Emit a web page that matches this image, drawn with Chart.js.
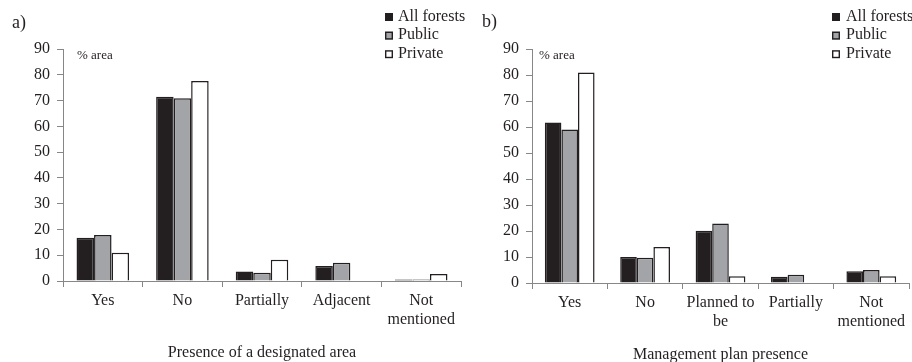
<!DOCTYPE html>
<html>
<head>
<meta charset="utf-8">
<script src="https://cdn.jsdelivr.net/npm/chart.js@4.4.1/dist/chart.umd.min.js"></script>
<style>
  html, body { margin: 0; padding: 0; background: #fff; }
  #wrap { position: relative; width: 912px; height: 362px; overflow: hidden; }
  #wrap div { position: absolute; top: 0; height: 362px; }
</style>
</head>
<body>
<div id="wrap">
  <div style="left:0; width:470px;"><canvas id="chartA"></canvas></div>
  <div style="left:470px; width:442px;"><canvas id="chartB"></canvas></div>
</div>
<script>
// series names
const seriesNames = ['All forests', 'Public', 'Private'];

// a) presence of a designated area
const categoriesA = ['Yes', 'No', 'Partially', 'Adjacent', ['Not', 'mentioned']];
const allForestsA = [16.8, 71.5, 3.7, 5.8, 0.6];
const publicA = [17.8, 70.9, 3.2, 7.1, 0.6];
const privateA = [11.0, 77.6, 8.2, 0, 2.7];

// b) management plan presence
const categoriesB = ['Yes', 'No', ['Planned to', 'be'], 'Partially', ['Not', 'mentioned']];
const allForestsB = [61.7, 10.0, 20.1, 2.4, 4.5];
const publicB = [59.0, 9.7, 22.9, 3.2, 5.0];
const privateB = [81.0, 13.8, 2.6, 0, 2.6];

const yTicks = { min: 0, max: 90, step: 10 };

const ink = '#231f20';
const axisGrey = '#878787';
const serif = '"Liberation Serif", "Times New Roman", serif';
const fills = [ink, '#a2a4a7', '#ffffff'];

// panel letter, "% area" note and the stacked legend
const extras = {
    id: 'extras',
    afterDraw(chart, args, opts) {
        const ctx = chart.ctx;
        ctx.save();
        ctx.fillStyle = ink;
        ctx.textBaseline = 'middle';
        ctx.textAlign = 'left';
        ctx.font = '18px ' + serif;
        ctx.fillText(opts.panel, opts.panelX, opts.panelY);
        ctx.font = '13px ' + serif;
        ctx.fillText('% area', opts.unitX, opts.unitY);

        ctx.font = '16px ' + serif;
        chart.data.datasets.forEach((ds, i) => {
            const y = opts.legendY + i * 18.6;
            ctx.fillStyle = ds.backgroundColor;
            ctx.fillRect(opts.legendX, y - 3.5, 8, 8);
            ctx.strokeStyle = ink;
            ctx.lineWidth = 1.4;
            ctx.strokeRect(opts.legendX + 0.7, y - 2.8, 6.6, 6.6);
            ctx.fillStyle = ink;
            ctx.fillText(ds.label, opts.legendX + opts.legendGap, y);
        });
        ctx.restore();
    }
};

function makeChart(canvasId, labels, series, cfg) {
    const ctx = document.getElementById(canvasId).getContext('2d');

    return new Chart(ctx, {
        type: 'bar',
        data: {
            labels: labels,
            datasets: series.map((data, i) => ({
                label: seriesNames[i],
                data: data,
                backgroundColor: fills[i],
                borderColor: ink,
                borderWidth: 1.5,
                borderSkipped: 'bottom',
                barPercentage: 1,
                categoryPercentage: 0.66
            }))
        },
        plugins: [extras],
        options: {
            responsive: true,
            maintainAspectRatio: false,
            animation: false,
            layout: {
                padding: { left: 0, right: cfg.padRight, top: cfg.top, bottom: 0 }
            },
            plugins: {
                legend: { display: false },
                tooltip: { enabled: false },
                extras: cfg.extras
            },
            scales: {
                x: {
                    grid: {
                        offset: true,
                        drawOnChartArea: false,
                        drawTicks: true,
                        tickLength: 6,
                        color: axisGrey
                    },
                    border: { color: axisGrey, width: 1 },
                    ticks: {
                        color: ink,
                        font: { family: serif, size: 16, lineHeight: 1.2 },
                        maxRotation: 0,
                        autoSkip: false,
                        padding: 4
                    },
                    title: {
                        display: true,
                        text: cfg.title,
                        color: ink,
                        font: { family: serif, size: 16, lineHeight: cfg.titleLH },
                        padding: { top: 0, bottom: 0 }
                    },
                    afterFit: s => { s.height = 362 - cfg.bottom; }
                },
                y: {
                    min: yTicks.min,
                    max: yTicks.max,
                    grid: {
                        drawOnChartArea: false,
                        drawTicks: true,
                        tickLength: 6,
                        color: axisGrey
                    },
                    border: { color: axisGrey, width: 1 },
                    ticks: {
                        stepSize: yTicks.step,
                        color: ink,
                        font: { family: serif, size: 16 },
                        padding: 7
                    },
                    afterFit: s => { s.width = cfg.left; }
                }
            }
        }
    });
}

makeChart('chartA', categoriesA, [allForestsA, publicA, privateA], {
    left: 63, padRight: 9, top: 49, bottom: 281,
    title: 'Presence of a designated area', titleLH: 1.2,
    extras: { panel: 'a)', panelX: 12, panelY: 23, unitX: 77, unitY: 56,
              legendX: 385, legendY: 16.5, legendGap: 13 }
});

makeChart('chartB', categoriesB, [allForestsB, publicB, privateB], {
    left: 62, padRight: 3, top: 49, bottom: 283,
    title: 'Management plan presence', titleLH: 0.9,
    extras: { panel: 'b)', panelX: 12, panelY: 22, unitX: 69, unitY: 55.5,
              legendX: 362, legendY: 16.5, legendGap: 14 }
});
</script>
</body>
</html>
